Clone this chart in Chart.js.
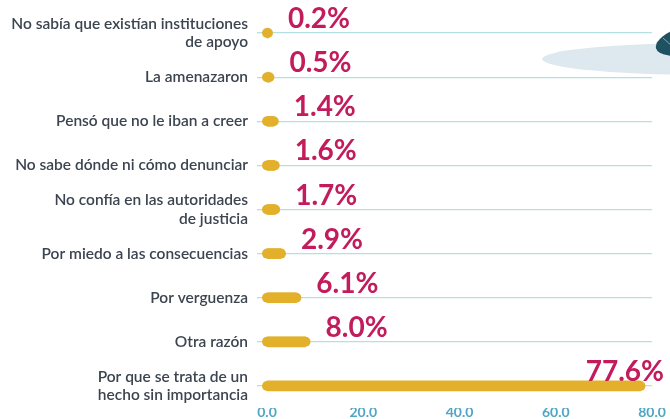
<!DOCTYPE html>
<html lang="es">
<head>
<meta charset="utf-8">
<title>Razones para no denunciar</title>
<script src="https://cdn.jsdelivr.net/npm/chart.js@4.4.1/dist/chart.umd.min.js"></script>
<style>
  html, body { margin: 0; padding: 0; background: #fff; }
  #wrap { width: 670px; height: 419px; position: relative; }
</style>
</head>
<body>
<div id="wrap"><canvas id="razonesChart"></canvas></div>
<script>
// Datos
const categorias = [
    ['No sabía que existían instituciones', 'de apoyo'],
    'La amenazaron',
    'Pensó que no le iban a creer',
    'No sabe dónde ni cómo denunciar',
    ['No confía en las autoridades', 'de justicia'],
    'Por miedo a las consecuencias',
    'Por verguenza',
    'Otra razón',
    ['Por que se trata de un', 'hecho sin importancia']
];
const porcentajes = [0.2, 0.5, 1.4, 1.6, 1.7, 2.9, 6.1, 8.0, 77.6];
const ticksX = [0, 20, 40, 60, 80];

const amarillo = '#e2b02a';
const guinda = '#c21c5c';
const azulTick = '#4fa6c5';
const lineaGrid = '#b5e0e3';

// fondo decorativo (esquina superior derecha)
const decoracion = {
    id: 'decoracion',
    beforeDraw(chart) {
        const ctx = chart.ctx;
        ctx.save();
        ctx.fillStyle = '#dde9ee';
        ctx.beginPath();
        ctx.ellipse(706, 59, 164, 16, 0, 0, Math.PI * 2);
        ctx.fill();
        ctx.fillStyle = '#1e5260';
        ctx.beginPath();
        ctx.ellipse(688, 40, 33, 14, -0.25, 0, Math.PI * 2);
        ctx.fill();
        ctx.strokeStyle = '#7fa9b1';
        ctx.lineWidth = 1;
        ctx.beginPath();
        ctx.moveTo(663, 38);
        ctx.lineTo(672, 46);
        ctx.stroke();
        ctx.restore();
    }
};

// extremos redondeados de las barras + etiquetas de valor
const extremosYEtiquetas = {
    id: 'extremosYEtiquetas',
    afterDatasetsDraw(chart) {
        const ctx = chart.ctx;
        const meta = chart.getDatasetMeta(0);
        ctx.save();
        meta.data.forEach((bar, i) => {
            ctx.strokeStyle = amarillo;
            ctx.lineWidth = bar.height;
            ctx.lineCap = 'round';
            ctx.beginPath();
            ctx.moveTo(bar.base, bar.y);
            ctx.lineTo(bar.x, bar.y);
            ctx.stroke();

            const txt = porcentajes[i].toFixed(1) + '%';
            ctx.font = 'bold 28px Lato';
            ctx.fillStyle = guinda;
            ctx.textBaseline = 'alphabetic';
            const w = ctx.measureText(txt).width;
            let x = bar.x + 20;
            if (x + w > 664) x = 664 - w;
            ctx.textAlign = 'left';
            ctx.fillText(txt, x, bar.y - 5);
        });
        ctx.restore();
    }
};

const razonesCtx = document.getElementById('razonesChart').getContext('2d');
new Chart(razonesCtx, {
    type: 'bar',
    data: {
        labels: categorias,
        datasets: [{
            data: porcentajes,
            backgroundColor: amarillo,
            barThickness: 10,
            borderWidth: 0
        }]
    },
    options: {
        indexAxis: 'y',
        responsive: true,
        maintainAspectRatio: false,
        animation: false,
        layout: { padding: { top: 11, right: 18, left: 0, bottom: 0 } },
        plugins: { legend: { display: false }, tooltip: { enabled: false } },
        scales: {
            x: {
                min: 0,
                max: 80,
                afterBuildTicks: (scale) => { scale.ticks = ticksX.map(v => ({ value: v })); },
                afterFit: (scale) => {
                    scale.height = 11;
                    scale.paddingLeft = 0;
                    scale.paddingRight = 0;
                },
                grid: { display: false, drawTicks: false },
                border: { display: false },
                ticks: {
                    color: azulTick,
                    padding: -4,
                    maxRotation: 0,
                    font: { family: 'Lato', size: 14, weight: 'bold' },
                    callback: (v) => Number(v).toFixed(1)
                }
            },
            y: {
                afterFit: (scale) => {
                    scale.width = 267;
                    scale.paddingTop = 0;
                    scale.paddingBottom = 0;
                },
                border: { display: false },
                grid: {
                    offset: false,
                    color: lineaGrid,
                    lineWidth: 1.3,
                    drawTicks: true,
                    tickLength: 10
                },
                ticks: {
                    color: '#3c4450',
                    padding: 9,
                    font: { family: 'Lato', size: 15.5, weight: '600', lineHeight: 1.17 }
                }
            }
        }
    },
    plugins: [decoracion, extremosYEtiquetas]
});
</script>
</body>
</html>
